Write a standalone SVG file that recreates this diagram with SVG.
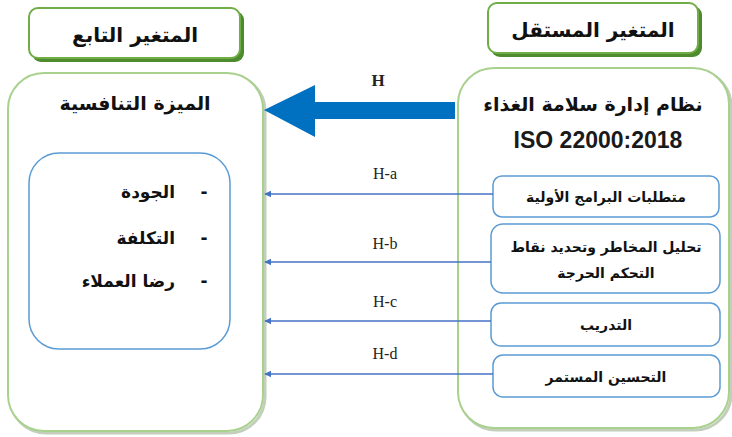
<svg xmlns="http://www.w3.org/2000/svg" width="732" height="437" viewBox="0 0 732 437">
<defs>
<style>
.hdr{fill:#fff;stroke:#70AD47;stroke-width:2}
.hdrsh{fill:#4E8A2E}
.big{fill:#fff;stroke:#A9D18E;stroke-width:2}
.bigsh{fill:none;stroke:#9BAF8C;stroke-width:3;opacity:0.6}
.inner{fill:#fff;stroke:#5B9BD5;stroke-width:1.5}
.sb{fill:#fff;stroke:#5B9BD5;stroke-width:1.5}
.ar{font-family:"DejaVu Sans","Liberation Sans",sans-serif;font-weight:bold;fill:#111}
.lbl{font-family:"Liberation Serif",serif;font-size:16px;fill:#222}
.conn{stroke:#4472C4;stroke-width:1.5;fill:none;marker-end:url(#ah)}
</style>
<marker id="ah" viewBox="0 0 10 10" refX="9" refY="5" markerWidth="7" markerHeight="7" markerUnits="userSpaceOnUse" orient="auto">
<path d="M0,0 L10,5 L0,10 z" fill="#4472C4"/>
</marker>
</defs>
<rect width="732" height="437" fill="#fff"/>

<g id="header-dependent">
<rect class="hdrsh" x="32" y="11" width="212" height="51" rx="9"/>
<rect class="hdr" x="29" y="8" width="211" height="50" rx="9"/>
<text class="ar" x="135" y="42" font-size="20" text-anchor="middle">المتغير التابع</text>
</g>

<g id="header-independent">
<rect class="hdrsh" x="491" y="6" width="211" height="51" rx="9"/>
<rect class="hdr" x="488" y="3" width="210" height="50" rx="9"/>
<text class="ar" x="593" y="37" font-size="20" text-anchor="middle">المتغير المستقل</text>
</g>

<g id="dependent-box">
<rect class="bigsh" x="10" y="75" width="255" height="358" rx="36"/>
<rect class="big" x="8" y="73" width="255" height="358" rx="36"/>
<text class="ar" x="135" y="110" font-size="19" text-anchor="middle">الميزة التنافسية</text>
</g>

<g id="dimensions">
<rect class="inner" x="29" y="153" width="201" height="196" rx="30"/>
<text class="ar" x="175" y="198" font-size="17" text-anchor="end">الجودة</text>
<text class="ar" x="204" y="198" font-size="17" text-anchor="middle">-</text>
<text class="ar" x="175" y="244" font-size="17" text-anchor="end">التكلفة</text>
<text class="ar" x="204" y="244" font-size="17" text-anchor="middle">-</text>
<text class="ar" x="175" y="287" font-size="17" text-anchor="end">رضا العملاء</text>
<text class="ar" x="204" y="287" font-size="17" text-anchor="middle">-</text>
</g>

<g id="independent-box">
<rect class="bigsh" x="460" y="70" width="271" height="360" rx="36"/>
<rect class="big" x="458" y="68" width="271" height="360" rx="36"/>
<text class="ar" x="593" y="111" font-size="19" text-anchor="middle">نظام إدارة سلامة الغذاء</text>
<text x="598" y="148" font-family="'Liberation Sans',Arial,sans-serif" font-weight="bold" font-size="23" fill="#1a1a1a" text-anchor="middle">ISO 22000:2018</text>
</g>

<g id="prereq">
<rect class="sb" x="493" y="176" width="226" height="41" rx="9"/>
<text class="ar" x="606" y="202" font-size="14" text-anchor="middle">متطلبات البرامج الأولية</text>
</g>
<g id="haccp">
<rect class="sb" x="491" y="224" width="229" height="69" rx="12"/>
<text class="ar" x="606" y="252" font-size="14" text-anchor="middle">تحليل المخاطر وتحديد نقاط</text>
<text class="ar" x="606" y="278" font-size="14" text-anchor="middle">التحكم الحرجة</text>
</g>
<g id="training">
<rect class="sb" x="491" y="303" width="229" height="43" rx="10"/>
<text class="ar" x="606" y="330" font-size="14" text-anchor="middle">التدريب</text>
</g>
<g id="improvement">
<rect class="sb" x="493" y="355" width="227" height="42" rx="10"/>
<text class="ar" x="606" y="382" font-size="14" text-anchor="middle">التحسين المستمر</text>
</g>

<g id="connectors">
<path d="M455,102 L315,102 L315,85 L264,110 L315,137 L315,119 L455,119 z" fill="#0070C0"/>
<text x="378" y="86" font-family="'Liberation Serif',serif" font-weight="bold" font-size="17" fill="#222" text-anchor="middle">H</text>
<line class="conn" x1="493" y1="194" x2="265" y2="194"/>
<text class="lbl" x="385" y="179" text-anchor="middle">H-a</text>
<line class="conn" x1="491" y1="262" x2="265" y2="262"/>
<text class="lbl" x="385" y="249" text-anchor="middle">H-b</text>
<line class="conn" x1="491" y1="321" x2="265" y2="321"/>
<text class="lbl" x="385" y="307" text-anchor="middle">H-c</text>
<line class="conn" x1="493" y1="374" x2="265" y2="374"/>
<text class="lbl" x="385" y="359" text-anchor="middle">H-d</text>
</g>
</svg>
